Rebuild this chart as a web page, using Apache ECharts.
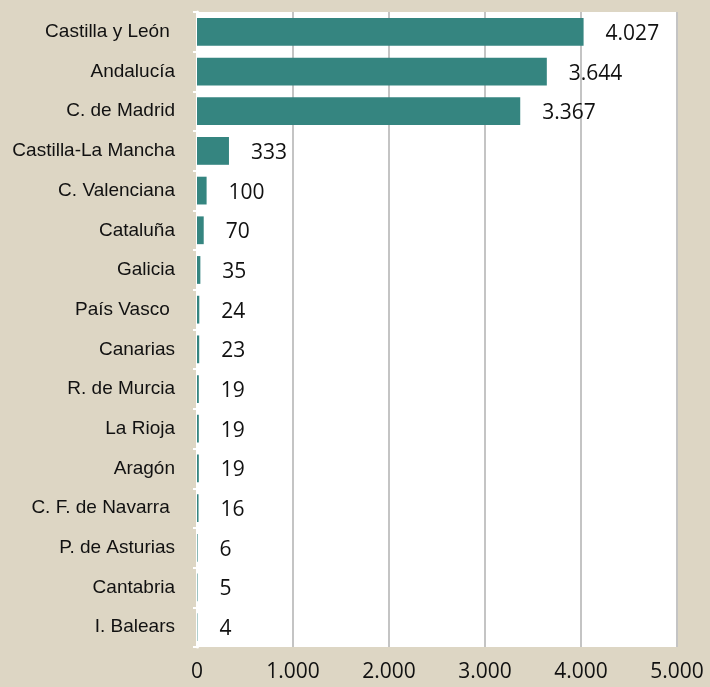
<!DOCTYPE html>
<html>
<head>
<meta charset="utf-8">
<script src="https://cdn.jsdelivr.net/npm/echarts@6/dist/echarts.min.js"></script>
<style>
  html, body { margin: 0; padding: 0; background: #ddd6c4; }
  #chart { width: 710px; height: 687px; }
</style>
</head>
<body>
<div id="chart"></div>
<script>
// comunidades, de arriba abajo
var regions = ['Castilla y León ', 'Andalucía', 'C. de Madrid', 'Castilla-La Mancha', 'C. Valenciana',
    'Cataluña', 'Galicia', 'País Vasco ', 'Canarias', 'R. de Murcia', 'La Rioja', 'Aragón',
    'C. F. de Navarra ', 'P. de Asturias', 'Cantabria', 'I. Balears'];
var values = [4027, 3644, 3367, 333, 100, 70, 35, 24, 23, 19, 19, 19, 16, 6, 5, 4];
var xTicks = [0, 1000, 2000, 3000, 4000, 5000];

// separador de miles con punto
function fmt(v) {
    return String(v).replace(/\B(?=(\d{3})+(?!\d))/g, '.');
}

var mychart = echarts.init(document.getElementById('chart'));
var option = {
    backgroundColor: '#ddd6c4',
    animation: false,
    grid: {
        left: 197,
        right: 33,
        top: 12,
        bottom: 40,
        show: true,
        backgroundColor: '#ffffff',
        borderWidth: 0
    },
    xAxis: {
        type: 'value',
        min: xTicks[0],
        max: xTicks[xTicks.length - 1],
        interval: 1000,
        axisLine: {show: false},
        axisTick: {show: false},
        splitLine: {lineStyle: {color: '#c4c4c4', width: 2}},
        axisLabel: {
            color: '#111',
            fontFamily: 'Open Sans',
            fontSize: 21,
            margin: 15,
            formatter: fmt
        }
    },
    yAxis: {
        type: 'category',
        inverse: true,
        data: regions,
        axisLine: {show: true, lineStyle: {color: '#ffffff', width: 3}},
        axisTick: {show: true, length: 4, lineStyle: {color: '#ffffff', width: 2}},
        axisLabel: {
            color: '#111',
            fontFamily: 'Liberation Sans',
            fontSize: 19,
            margin: 22
        }
    },
    series: [{
        type: 'bar',
        data: values,
        barCategoryGap: '30%',
        itemStyle: {color: '#358580'},
        label: {
            show: true,
            position: 'right',
            distance: 22,
            offset: [0, 2],
            color: '#111',
            fontFamily: 'Open Sans',
            fontSize: 21,
            formatter: function (p) {
                return fmt(p.value);
            }
        }
    }]
};
mychart.setOption(option);
</script>
</body>
</html>
